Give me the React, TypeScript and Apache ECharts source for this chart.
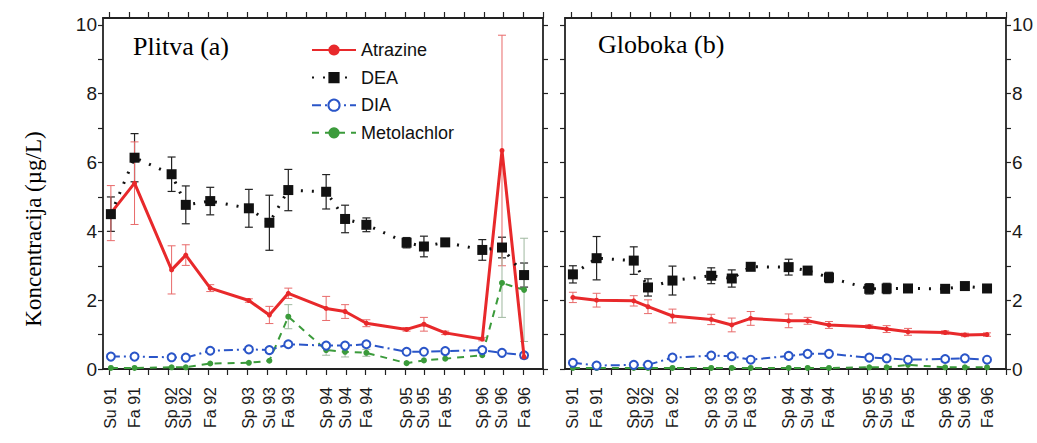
import React, { useEffect, useRef } from "react";
import * as echarts from "echarts";

// sampling dates (decimal years) and their labels
const sampleTimes = [1991.52, 1991.82, 1992.29, 1992.47, 1992.78, 1993.27, 1993.53, 1993.77, 1994.25, 1994.49, 1994.76, 1995.27, 1995.49, 1995.76, 1996.23, 1996.48, 1996.76];
const sampleLabels = ["Su 91", "Fa 91", "Sp 92", "Su 92", "Fa 92", "Sp 93", "Su 93", "Fa 93", "Sp 94", "Su 94", "Fa 94", "Sp 95", "Su 95", "Fa 95", "Sp 96", "Su 96", "Fa 96"];
const quarterTicks = [1991.5, 1991.75, 1992.0, 1992.25, 1992.5, 1992.75, 1993.0, 1993.25, 1993.5, 1993.75, 1994.0, 1994.25, 1994.5, 1994.75, 1995.0, 1995.25, 1995.5, 1995.75, 1996.0, 1996.25, 1996.5, 1996.75, 1997.0];
const yTicks = [0, 1, 2, 3, 4, 5, 6, 7, 8, 9, 10];
const yLabels = [0, 2, 4, 6, 8, 10];

// Plitva (a)
const atrazineA = [4.53, 5.4, 2.88, 3.31, 2.35, 1.99, 1.57, 2.2, 1.76, 1.67, 1.33, 1.15, 1.3, 1.05, 0.87, 6.35, 0.35];
const atrazineAErr = [0.8, 1.2, 0.7, 0.3, 0.1, 0.05, 0.25, 0.15, 0.35, 0.2, 0.1, 0.05, 0.2, 0.05, 0.05, 3.35, 0.05];
const deaA = [4.5, 6.14, 5.66, 4.77, 4.88, 4.67, 4.25, 5.2, 5.15, 4.36, 4.19, 3.67, 3.56, 3.68, 3.46, 3.53, 2.73];
const deaAErr = [0.5, 0.7, 0.5, 0.55, 0.4, 0.55, 0.8, 0.6, 0.5, 0.4, 0.2, 0.15, 0.3, 0.1, 0.3, 0.3, 0.35];
const diaA = [0.36, 0.36, 0.34, 0.33, 0.53, 0.57, 0.55, 0.72, 0.68, 0.68, 0.72, 0.5, 0.5, 0.52, 0.55, 0.47, 0.4];
const metA = [0.03, 0.03, 0.05, 0.05, 0.16, 0.18, 0.24, 1.52, 0.55, 0.5, 0.47, 0.17, 0.25, 0.3, 0.4, 2.5, 2.3];
const metAErr = [0, 0, 0, 0, 0, 0, 0, 0.35, 0.15, 0.15, 0.1, 0, 0, 0, 0, 1.0, 1.5];

// Globoka (b)
const atrazineB = [2.08, 2.0, 1.98, 1.81, 1.54, 1.44, 1.28, 1.47, 1.4, 1.4, 1.28, 1.23, 1.16, 1.08, 1.06, 0.99, 1.0];
const atrazineBErr = [0.15, 0.2, 0.15, 0.2, 0.2, 0.15, 0.2, 0.2, 0.2, 0.1, 0.1, 0.05, 0.1, 0.1, 0.05, 0.05, 0.05];
const deaB = [2.75, 3.22, 3.15, 2.37, 2.57, 2.71, 2.63, 2.97, 2.96, 2.86, 2.66, 2.33, 2.34, 2.34, 2.33, 2.41, 2.34];
const deaBErr = [0.25, 0.63, 0.4, 0.25, 0.42, 0.23, 0.25, 0.08, 0.23, 0.1, 0.15, 0.15, 0.15, 0.05, 0.05, 0.1, 0.05];
const diaB = [0.18, 0.1, 0.12, 0.12, 0.33, 0.39, 0.37, 0.27, 0.38, 0.44, 0.44, 0.33, 0.31, 0.27, 0.29, 0.31, 0.27];
const metB = [0.03, 0.03, 0.03, 0.03, 0.03, 0.03, 0.03, 0.03, 0.03, 0.03, 0.03, 0.05, 0.05, 0.12, 0.05, 0.05, 0.05];

const X_MIN = 1991.42;
const X_MAX = 1997.0;
const Y_MIN = 0;
const Y_MAX = 10.2;

const RED = "#e8292b";
const BLACK = "#111111";
const BLUE = "#2a55c8";
const GREEN = "#3b9b3b";
const AXIS = "#222222";
const SANS = "Liberation Sans, Arial, sans-serif";
const SERIF = "Liberation Serif, Times New Roman, serif";

const pts = (vals: number[]) => sampleTimes.map((t, i) => [t, vals[i]]);
const errData = (vals: number[], errs: number[]) =>
  sampleTimes
    .map((t, i) => [t, vals[i] - errs[i], vals[i] + errs[i]])
    .filter((_, i) => errs[i] > 0);

const errRender = (color: string, cap: number, width: number) => (params: any, api: any) => {
  const x = api.value(0);
  const lo = api.value(1);
  const hi = api.value(2);
  const a = api.coord([x, hi]);
  const b = api.coord([x, lo]);
  const style = { stroke: color, lineWidth: width };
  return {
    type: "group",
    children: [
      { type: "line", shape: { x1: a[0], y1: a[1], x2: b[0], y2: b[1] }, style },
      { type: "line", shape: { x1: a[0] - cap, y1: a[1], x2: a[0] + cap, y2: a[1] }, style },
      { type: "line", shape: { x1: b[0] - cap, y1: b[1], x2: b[0] + cap, y2: b[1] }, style },
    ],
  };
};

const labelFor = (value: number) => {
  const i = sampleTimes.findIndex((t) => Math.abs(t - value) < 1e-6);
  return i >= 0 ? sampleLabels[i] : "";
};

const xAxisDef = (gridIndex: number, position: string, labels: boolean) => ({
  type: "value",
  gridIndex,
  position,
  min: X_MIN,
  max: X_MAX,
  axisLine: { show: true, onZero: false, lineStyle: { color: AXIS, width: 1.8 } },
  axisTick: { show: true, inside: false, length: 6, customValues: quarterTicks, lineStyle: { color: AXIS, width: 1.2 } },
  axisLabel: labels
    ? { show: true, customValues: sampleTimes, formatter: labelFor, rotate: 90, fontSize: 16, margin: 18, color: "#1a1a1a", fontFamily: SANS }
    : { show: false },
  splitLine: { show: false },
});

const yAxisDef = (gridIndex: number, position: string, labels: boolean) => ({
  type: "value",
  gridIndex,
  position,
  min: Y_MIN,
  max: Y_MAX,
  axisLine: { show: true, onZero: false, lineStyle: { color: AXIS, width: 1.8 } },
  axisTick: { show: true, inside: false, length: 5, customValues: yTicks, lineStyle: { color: AXIS, width: 1.2 } },
  axisLabel: labels
    ? { show: true, customValues: yLabels, fontSize: 19, margin: 6, color: "#1a1a1a", fontFamily: SANS }
    : { show: false },
  splitLine: { show: false },
});

const panelSeries = (
  xi: number,
  atr: number[],
  atrErr: number[],
  dea: number[],
  deaErr: number[],
  dia: number[],
  met: number[],
  metErr: number[] | null
) => {
  const s: any[] = [
    {
      name: "err-dea-" + xi, type: "custom", xAxisIndex: xi, yAxisIndex: xi, z: 1,
      renderItem: errRender("#222", 4, 1.2), encode: { x: 0, y: [1, 2] }, data: errData(dea, deaErr),
    },
    {
      name: "err-atr-" + xi, type: "custom", xAxisIndex: xi, yAxisIndex: xi, z: 1,
      renderItem: errRender("#e86a6a", 4, 1), encode: { x: 0, y: [1, 2] }, data: errData(atr, atrErr),
    },
  ];
  if (metErr) {
    s.push({
      name: "err-met-" + xi, type: "custom", xAxisIndex: xi, yAxisIndex: xi, z: 1,
      renderItem: errRender("#9fb89f", 4, 1), encode: { x: 0, y: [1, 2] }, data: errData(met, metErr),
    });
  }
  s.push(
    {
      name: "Metolachlor", type: "line", xAxisIndex: xi, yAxisIndex: xi, z: 3,
      data: pts(met), symbol: "circle", symbolSize: 6,
      lineStyle: { color: GREEN, width: 2, type: [7, 6] }, itemStyle: { color: GREEN },
    },
    {
      name: "DIA", type: "line", xAxisIndex: xi, yAxisIndex: xi, z: 4,
      data: pts(dia), symbol: "emptyCircle", symbolSize: 8,
      lineStyle: { color: BLUE, width: 2, type: [9, 4, 2, 4] }, itemStyle: { color: BLUE, borderColor: BLUE, borderWidth: 1.6 },
    },
    {
      name: "Atrazine", type: "line", xAxisIndex: xi, yAxisIndex: xi, z: 5,
      data: pts(atr), symbol: "circle", symbolSize: 5,
      lineStyle: { color: RED, width: 3 }, itemStyle: { color: RED },
    },
    {
      name: "DEA", type: "line", xAxisIndex: xi, yAxisIndex: xi, z: 6,
      data: pts(dea), symbol: "rect", symbolSize: 10,
      lineStyle: { color: BLACK, width: 3, type: [2, 9] }, itemStyle: { color: BLACK },
    }
  );
  return s;
};

export default function App() {
  const ref = useRef<HTMLDivElement>(null);
  useEffect(() => {
    if (!ref.current) return;
    const chart = echarts.init(ref.current, null, { renderer: "svg" });
    chart.setOption({
      animation: false,
      backgroundColor: "#ffffff",
      grid: [
        { left: 103, top: 18, width: 440, height: 351 },
        { left: 565, top: 18, width: 441, height: 351 },
      ],
      xAxis: [xAxisDef(0, "bottom", true), xAxisDef(0, "top", false), xAxisDef(1, "bottom", true), xAxisDef(1, "top", false)],
      yAxis: [yAxisDef(0, "left", true), yAxisDef(0, "right", false), yAxisDef(1, "left", false), yAxisDef(1, "right", true)],
      legend: {
        data: ["Atrazine", "DEA", "DIA", "Metolachlor"],
        orient: "vertical",
        left: 306,
        top: 36,
        itemWidth: 44,
        itemHeight: 14,
        itemGap: 9.6,
        textStyle: { fontSize: 18, fontFamily: SANS, color: "#111" },
        selectedMode: false,
      },
      graphic: [
        {
          type: "text", x: 133, y: 46,
          style: { text: "Plitva (a)", font: "26px " + SERIF, fill: "#000", textAlign: "left", textVerticalAlign: "middle" },
        },
        {
          type: "text", x: 598, y: 44,
          style: { text: "Globoka (b)", font: "26px " + SERIF, fill: "#000", textAlign: "left", textVerticalAlign: "middle" },
        },
        {
          type: "text", x: 33, y: 229, rotation: Math.PI / 2,
          style: { text: "Koncentracija (µg/L)", font: "23px " + SERIF, fill: "#000", textAlign: "center", textVerticalAlign: "middle" },
        },
      ],
      series: [
        ...panelSeries(0, atrazineA, atrazineAErr, deaA, deaAErr, diaA, metA, metAErr),
        ...panelSeries(2, atrazineB, atrazineBErr, deaB, deaBErr, diaB, metB, null),
      ],
    });
    return () => chart.dispose();
  }, []);
  return <div ref={ref} style={{ position: "fixed", left: 0, top: 0, width: 1037, height: 443, background: "#fff" }} />;
}
